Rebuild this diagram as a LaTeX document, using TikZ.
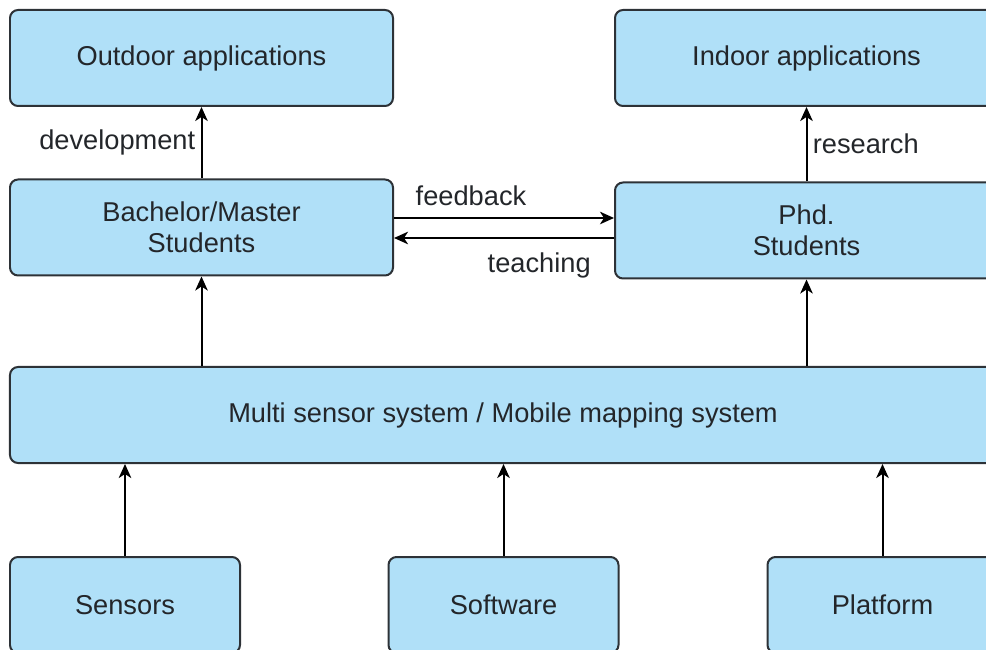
\documentclass[tikz,border=0pt]{standalone}
\usepackage{fontspec}
\usetikzlibrary{arrows.meta}
\setmainfont{Liberation Sans}
\definecolor{boxblue}{RGB}{176,224,248}
\definecolor{boxline}{RGB}{45,50,55}
\definecolor{txt}{RGB}{35,38,42}
\tikzstyle{block}=[draw=boxline,fill=boxblue,rounded corners=0.16cm,line width=0.04cm,
  minimum height=1.92cm,inner sep=0pt,align=center,text=txt,font=\fontsize{15.5}{17.8}\selectfont]
\tikzstyle{lbl}=[text=txt,font=\fontsize{15.5}{19}\selectfont,inner sep=3pt]
\tikzstyle{arr}=[-{Stealth[length=0.28cm,width=0.25cm,inset=0.08cm]}]
\begin{document}
\begin{tikzpicture}[line width=0.04cm]
  \useasboundingbox (0,0) rectangle (19.72,-13);
  \clip (0,0) rectangle (19.72,-13);
  \node[block,minimum width=7.66cm] (out) at (4.03,-1.16) {Outdoor applications};
  \node[block,minimum width=7.66cm] (ind) at (16.13,-1.16) {Indoor applications};
  \node[block,minimum width=7.66cm] (bms) at (4.03,-4.55) {Bachelor/Master\\Students};
  \node[block,minimum width=7.66cm] (phd) at (16.13,-4.61) {Phd.\\Students};
  \node[block,minimum width=19.72cm] (msys) at (10.06,-8.30) {Multi sensor system / Mobile mapping system};
  \node[block,minimum width=4.60cm] (sens) at (2.50,-12.10) {Sensors};
  \node[block,minimum width=4.60cm] (soft) at (10.07,-12.10) {Software};
  \node[block,minimum width=4.60cm] (plat) at (17.65,-12.10) {Platform};
\draw[arr] (bms.north) -- node[lbl,left] {development} (out.south);
\draw[arr] (phd.north) -- node[lbl,right] {research} (ind.south);
\draw[arr] (bms.east |- 0,-4.36) -- node[lbl,above,pos=0.35,yshift=0.12cm] {feedback} (phd.west |- 0,-4.36);
\draw[arr] (phd.west |- 0,-4.76) -- node[lbl,below,pos=0.34,yshift=-0.16cm] {teaching} (bms.east |- 0,-4.76);
\draw[arr] (bms.south |- msys.north) -- (bms.south);
\draw[arr] (phd.south |- msys.north) -- (phd.south);
\draw[arr] (sens.north) -- (sens.north |- msys.south);
\draw[arr] (soft.north) -- (soft.north |- msys.south);
\draw[arr] (plat.north) -- (plat.north |- msys.south);
\end{tikzpicture}
\end{document}
